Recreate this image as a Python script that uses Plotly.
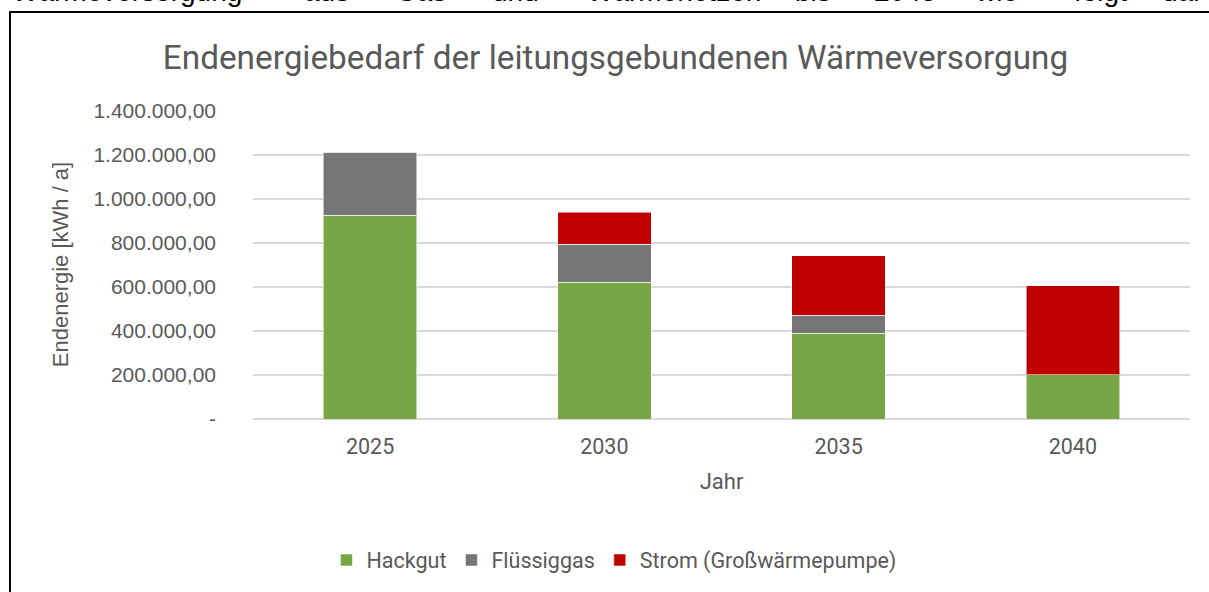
import plotly.graph_objects as go

# Final energy demand of the grid-bound heat supply, kWh per year
years = ["2025", "2030", "2035", "2040"]
hackgut = [924000, 621000, 390000, 200000]
fluessiggas = [286000, 173000, 80000, 0]
strom_wp = [0, 143000, 271000, 405000]

series_names = ["Hackgut", "Flüssiggas", "Strom (Großwärmepumpe)"]
series_colors = ["#78A646", "#767676", "#C00000"]

y_tickvals = [0, 200000, 400000, 600000, 800000, 1000000, 1200000, 1400000]
y_ticktext = ["-", "200.000,00", "400.000,00", "600.000,00", "800.000,00",
              "1.000.000,00", "1.200.000,00", "1.400.000,00"]

# Words of the document line running above the chart frame
doc_words = ["Wärmeversorgung", "aus", "Gas-", "und", "Wärmenetzen",
             "bis", "2045", "wie", "folgt", "dar"]
doc_word_x = [10, 302, 393, 490, 585, 793, 872, 973, 1072, 1160]

W, H = 1209, 592
L, R, T, B = 253, 19, 110, 173
plot_w = W - L - R
plot_h = H - T - B

NARROW = "Roboto, Arial, sans-serif"
PLAIN = "Liberation Sans, Arial, sans-serif"


def px_x(x):
    return (x - L) / plot_w


def px_y(y):
    return (H - B - y) / plot_h


fig = go.Figure()
for name, vals, color in zip(series_names, [hackgut, fluessiggas, strom_wp], series_colors):
    fig.add_trace(go.Bar(
        x=years, y=vals, name=name,
        marker=dict(color=color, line=dict(color="rgba(255,255,255,0.55)", width=1)),
    ))

fig.update_layout(
    width=W, height=H,
    margin=dict(l=L, r=R, t=T, b=B),
    barmode="stack", bargap=0.6,
    paper_bgcolor="white", plot_bgcolor="white",
    font=dict(family=PLAIN, color="#595959"),
    title=dict(
        text="Endenergiebedarf der leitungsgebundenen Wärmeversorgung",
        font=dict(family=NARROW, size=33.3, color="#595959"),
        x=615.5 / W, xanchor="center", xref="container",
        y=1 - 57 / H, yanchor="middle", yref="container",
    ),
    xaxis=dict(
        showgrid=False, showline=False, zeroline=False,
        tickfont=dict(family=NARROW, size=21.5, color="#595959"),
        ticklabelstandoff=12,
        title=dict(text="Jahr", standoff=16,
                   font=dict(family=NARROW, size=22, color="#595959")),
    ),
    yaxis=dict(
        range=[0, 1402000],
        tickvals=y_tickvals, ticktext=y_ticktext,
        showgrid=True, gridcolor="#D9D9D9", gridwidth=1.5,
        zeroline=True, zerolinecolor="#D9D9D9", zerolinewidth=1.5,
        showline=False,
        tickfont=dict(size=21, color="#595959"),
        ticklabelstandoff=36,
        title=dict(text="Endenergie [kWh / a]", standoff=18,
                   font=dict(size=22, color="#595959")),
    ),
    legend=dict(
        orientation="h", xanchor="center", yanchor="middle",
        x=px_x(614), y=px_y(560),
        font=dict(family=NARROW, size=21.5, color="#595959"),
        itemwidth=30, traceorder="normal",
    ),
    shapes=[dict(
        type="rect", xref="paper", yref="paper",
        x0=px_x(10), x1=px_x(W + 40), y0=px_y(H + 40), y1=px_y(12),
        line=dict(color="black", width=2), fillcolor="rgba(0,0,0,0)",
    )],
)

for word, x in zip(doc_words, doc_word_x):
    fig.add_annotation(
        text=word, x=px_x(x), xanchor="left", xref="paper",
        y=px_y(-9), yanchor="middle", yref="paper",
        showarrow=False,
        font=dict(family=PLAIN, size=28, color="black"),
    )

fig.write_html("out.html")
